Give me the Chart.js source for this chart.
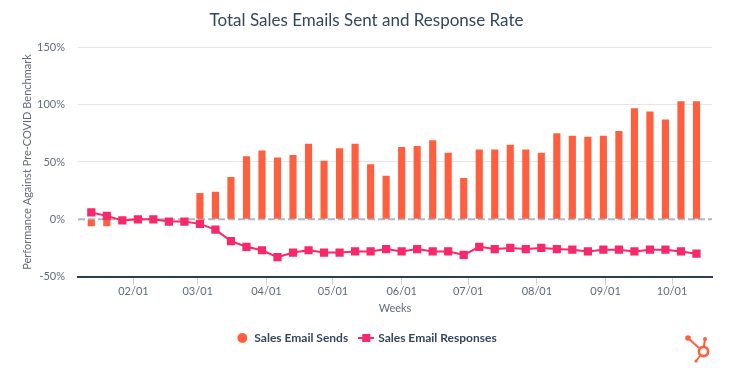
<!DOCTYPE html>
<html>
<head>
<meta charset="utf-8">
<script src="https://cdn.jsdelivr.net/npm/chart.js@4.4.0/dist/chart.umd.min.js"></script>
<style>
  html, body { margin: 0; padding: 0; background: #fff; }
  #wrap { width: 734px; height: 368px; }
</style>
</head>
<body>
<div id="wrap"><canvas id="myChart"></canvas></div>
<script>
// weekly data points (Mondays, 2020)
const weeks = ['01/13', '01/20', '01/27', '02/03', '02/10', '02/17', '02/24', '03/02', '03/09', '03/16',
  '03/23', '03/30', '04/06', '04/13', '04/20', '04/27', '05/04', '05/11', '05/18', '05/25',
  '06/01', '06/08', '06/15', '06/22', '06/29', '07/06', '07/13', '07/20', '07/27', '08/03',
  '08/10', '08/17', '08/24', '08/31', '09/07', '09/14', '09/21', '09/28', '10/05', '10/12'];
const emailSends = [-6, -6, -3, 0, 0, -1, -1, 23, 24, 37,
  55, 60, 54, 56, 66, 51, 62, 66, 48, 38,
  63, 64, 69, 58, 36, 61, 61, 65, 61, 58,
  75, 73, 72, 73, 77, 97, 94, 87, 103, 103];
const emailResponses = [6, 3, -1, 0, 0, -2, -2, -4, -9, -19,
  -24, -27, -33, -29, -27, -29, -29, -28, -28, -26,
  -28, -26, -28, -28, -31, -24, -26, -25, -26, -25,
  -26, -26.5, -28, -26.5, -26.5, -28, -26.5, -26.5, -28, -30];
const monthTicks = ['02/01', '03/01', '04/01', '05/01', '06/01', '07/01', '08/01', '09/01', '10/01'];
const yTicks = [-50, 0, 50, 100, 150];

const monthLen = [31, 29, 31, 30, 31, 30, 31, 31, 30, 31, 30, 31];
function dayOf(s) {
  let m = parseInt(s.slice(0, 2)) - 1;
  let d = parseInt(s.slice(3));
  for (let i = 0; i < m; i++) d += monthLen[i];
  return d;
}

const orange = '#ff5f3f';
const pink = '#f8286a';
const textColor = '#5f6b7a';

// little line + square icon for the legend
const lineIcon = document.createElement('canvas');
lineIcon.width = 16;
lineIcon.height = 8;
const ic = lineIcon.getContext('2d');
ic.fillStyle = pink;
ic.fillRect(0, 3, 16, 2);
ic.fillRect(4, 0, 8, 8);

const zeroLine = {
  id: 'zeroLine',
  beforeDatasetsDraw(chart) {
    const {ctx, chartArea, scales} = chart;
    const y = scales.y.getPixelForValue(0);
    ctx.save();
    ctx.strokeStyle = '#a9b9c8';
    ctx.lineWidth = 2;
    ctx.setLineDash([7, 3]);
    ctx.beginPath();
    ctx.moveTo(chartArea.left, y);
    ctx.lineTo(chartArea.right, y);
    ctx.stroke();
    ctx.restore();
  }
};

// hubspot sprocket in the corner
const logo = {
  id: 'logo',
  afterDraw(chart) {
    const ctx = chart.ctx;
    ctx.save();
    ctx.strokeStyle = orange;
    ctx.fillStyle = orange;
    ctx.lineWidth = 2;
    ctx.beginPath();
    ctx.moveTo(688, 338);
    ctx.lineTo(699, 348);
    ctx.moveTo(705, 339);
    ctx.lineTo(704, 346);
    ctx.moveTo(700, 356);
    ctx.lineTo(696, 361);
    ctx.stroke();
    ctx.lineWidth = 2.6;
    ctx.beginPath();
    ctx.arc(703.5, 351.5, 4.6, 0, Math.PI * 2);
    ctx.stroke();
    ctx.beginPath();
    ctx.arc(688, 338, 2.8, 0, Math.PI * 2);
    ctx.fill();
    ctx.beginPath();
    ctx.arc(705, 339, 2, 0, Math.PI * 2);
    ctx.fill();
    ctx.beginPath();
    ctx.arc(696, 361, 1.6, 0, Math.PI * 2);
    ctx.fill();
    ctx.restore();
  }
};

Chart.defaults.font.family = 'Lato, "Open Sans", sans-serif';

const ctx = document.getElementById('myChart');
new Chart(ctx, {
  type: 'bar',
  data: {
    datasets: [{
      type: 'bar',
      label: 'Sales Email Sends',
      data: weeks.map((w, i) => ({x: dayOf(w), y: emailSends[i]})),
      backgroundColor: orange,
      borderWidth: 0,
      barPercentage: 0.46,
      categoryPercentage: 1,
      pointStyle: 'circle',
      order: 1
    }, {
      type: 'line',
      label: 'Sales Email Responses',
      data: weeks.map((w, i) => ({x: dayOf(w), y: emailResponses[i]})),
      borderColor: pink,
      backgroundColor: pink,
      borderWidth: 2,
      pointStyle: 'rect',
      pointRadius: 4.4,
      pointHoverRadius: 4.4,
      tension: 0,
      order: 0
    }]
  },
  options: {
    responsive: true,
    maintainAspectRatio: false,
    animation: false,
    layout: {
      padding: {left: 21, right: 22, top: 0, bottom: 14}
    },
    plugins: {
      title: {
        display: true,
        text: 'Total Sales Emails Sent and Response Rate',
        color: '#33475b',
        font: {size: 17, weight: 'normal'},
        padding: {top: 10, bottom: 17}
      },
      legend: {
        position: 'bottom',
        labels: {
          usePointStyle: true,
          boxHeight: 7,
          boxWidth: 12,
          padding: 12,
          color: '#33475b',
          font: {size: 12, weight: 'bold'},
          sort: (a, b) => a.datasetIndex - b.datasetIndex,
          generateLabels(chart) {
            const items = Chart.defaults.plugins.legend.labels.generateLabels(chart);
            items.forEach(it => {
              it.pointStyle = it.datasetIndex === 1 ? lineIcon : 'circle';
            });
            return items;
          }
        }
      },
      tooltip: {enabled: false}
    },
    scales: {
      x: {
        type: 'linear',
        offset: false,
        min: 7,
        max: 293,
        afterBuildTicks(scale) {
          scale.ticks = monthTicks.map(m => ({value: dayOf(m)}));
        },
        ticks: {
          color: textColor,
          font: {size: 11},
          padding: 0,
          maxRotation: 0,
          callback(v) {
            const i = monthTicks.findIndex(m => dayOf(m) === v);
            return i >= 0 ? monthTicks[i] : '';
          }
        },
        grid: {
          offset: false,
          drawOnChartArea: false,
          drawTicks: true,
          tickLength: 8,
          color: '#c5d3e2',
          tickColor: '#c5d3e2'
        },
        border: {color: '#2d3e50', width: 2},
        title: {
          display: true,
          text: 'Weeks',
          color: textColor,
          font: {size: 11},
          padding: {top: 4, bottom: 5}
        }
      },
      y: {
        min: -50,
        max: 150,
        afterBuildTicks(scale) {
          scale.ticks = yTicks.map(v => ({value: v}));
        },
        afterFit(scale) {
          scale.width = 57;
        },
        ticks: {
          color: textColor,
          font: {size: 11},
          padding: 13,
          callback: v => v + '%'
        },
        grid: {
          drawTicks: false,
          color: c => (c.tick && c.tick.value > 0) ? '#e6e6e6' : 'rgba(0,0,0,0)'
        },
        border: {display: false},
        title: {
          display: true,
          text: 'Performance Against Pre-COVID Benchmark',
          color: textColor,
          font: {size: 11},
          padding: {top: 0, bottom: 0}
        }
      }
    }
  },
  plugins: [zeroLine, logo]
});
</script>
</body>
</html>
